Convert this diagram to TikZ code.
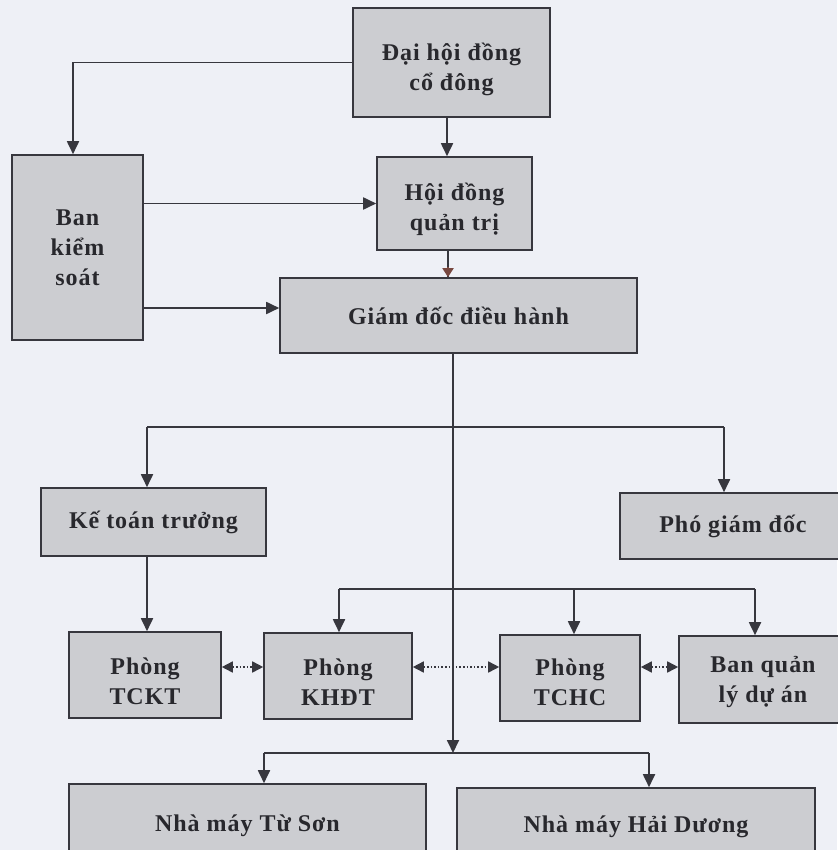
\documentclass[tikz,border=0pt]{standalone}
\usepackage{fontspec}
\setmainfont{Liberation Serif}[LetterSpace=4.0]
\usetikzlibrary{arrows.meta}
\definecolor{bgcol}{RGB}{238,240,246}
\definecolor{boxfill}{RGB}{204,205,209}
\definecolor{linecol}{RGB}{55,55,62}
\definecolor{txtcol}{RGB}{40,40,45}
\definecolor{tipbrown}{RGB}{120,72,64}
\tikzset{
  box/.style={draw=linecol, line width=1.6pt, fill=boxfill, rectangle, inner sep=0pt,
    align=center, text=txtcol, font=\bfseries\fontsize{24}{30}\selectfont},
  txt/.style={inner sep=0pt, align=center, text=txtcol, font=\bfseries\fontsize{24}{30}\selectfont},
  conn/.style={draw=linecol, line width=1.8pt},
  arr/.style={conn, -{Triangle[length=13pt,width=12pt]}},
  darr/.style={draw=linecol, line width=1.6pt, dotted,
    {Triangle[length=11pt,width=11pt]}-{Triangle[length=11pt,width=11pt]}},
}
\begin{document}
\begin{tikzpicture}[x=1pt,y=-1pt]
\fill[bgcol] (0,0) rectangle (837,850);
\useasboundingbox (0,0) rectangle (837,850);

% boxes
\node[box, minimum width=197pt, minimum height=109pt, line width=2pt] (dhd) at (451.5,62.5) {};
\node[txt] (dhdT) at (451.5,69) {Đại hội đồng\\cổ đông};
\node[box, minimum width=155pt, minimum height=93pt] (hdqt) at (454.5,203.5) {};
\node[txt] (hdqtT) at (454.5,209) {Hội đồng\\quản trị};
\node[box, minimum width=131pt, minimum height=185pt] (bks) at (77.5,247.5) {Ban\\kiểm\\soát};
\node[box, minimum width=357pt, minimum height=75pt] (gd) at (458.5,315.5) {Giám đốc điều hành};
\node[box, minimum width=225pt, minimum height=68pt] (ktt) at (153.5,522) {Kế toán trưởng};
\node[box, minimum width=226pt, minimum height=66pt] (pgd) at (733,526) {Phó giám đốc};
\node[box, minimum width=152pt, minimum height=86pt] (tckt) at (145,675) {};
\node[txt] (tcktT) at (145,681) {Phòng\\TCKT};
\node[box, minimum width=148pt, minimum height=86pt] (khdt) at (338,676) {};
\node[txt] (khdtT) at (338,682) {Phòng\\KHĐT};
\node[box, minimum width=140pt, minimum height=86pt] (tchc) at (570,678) {};
\node[txt] (tchcT) at (570,682) {Phòng\\TCHC};
\node[box, minimum width=168pt, minimum height=87pt] (bql) at (763,679.5) {};
\node[txt] (bqlT) at (763,682) {Ban quản\\lý dự án};
\node[box, minimum width=357pt, minimum height=78pt] (nmts) at (247.5,823) {};
\node[txt] (nmtsT) at (247.5,826) {Nhà máy Từ Sơn};
\node[box, minimum width=358pt, minimum height=78pt] (nmhd) at (636,827) {Nhà máy Hải Dương};

% bus coordinates
\coordinate (m0) at ([xshift=-5.5pt]gd.south);
\coordinate (b1) at (453,427);
\coordinate (tk) at (147,427);
\coordinate (tp) at (724,427);
\coordinate (b2) at (453,589);
\coordinate (a2) at (339,589);
\coordinate (c2) at (574,589);
\coordinate (d2) at (755,589);
\coordinate (b3) at (453,753);
\coordinate (e3) at (264,753);
\coordinate (f3) at (649,753);
\coordinate (dl) at (0,667);
\coordinate (g1) at ([yshift=7.5pt]gd.west);
\coordinate (k1) at ([xshift=-4.5pt]bks.north);
\coordinate (h1) at ([xshift=-4.5pt]dhd.south);
\coordinate (h2) at ([xshift=-6.5pt]hdqt.south);

% top part
\draw[arr] (dhd.west) -| (k1);
\draw[arr] (h1) -- (h1 |- hdqt.north);
\draw[conn] (h2) -- (h2 |- gd.north);
\draw[draw=tipbrown, line width=1.8pt, -{Triangle[length=9pt,width=11pt]}] ([yshift=10pt]h2 |- gd.north) -- (h2 |- gd.north);
\draw[arr] (bks.east |- hdqt.west) -- (hdqt.west);
\draw[arr] (bks.east |- g1) -- (g1);

% main vertical
\draw[arr] (m0) -- (b3);

% first bus
\draw[conn] (tk) -- (tp);
\draw[arr] (tk) -- (tk |- ktt.north);
\draw[arr] (tp) -- (tp |- pgd.north);
\draw[arr] (tk |- ktt.south) -- (tk |- tckt.north);

% second bus
\draw[conn] (a2) -- (d2);
\draw[arr] (a2) -- (a2 |- khdt.north);
\draw[arr] (c2) -- (c2 |- tchc.north);
\draw[arr] (d2) -- (d2 |- bql.north);

% dotted links
\draw[darr] (tckt.east |- dl) -- (khdt.west |- dl);
\draw[darr] (khdt.east |- dl) -- (tchc.west |- dl);
\draw[darr] (tchc.east |- dl) -- (bql.west |- dl);

% bottom bus
\draw[conn] (e3) -- (f3);
\draw[arr] (e3) -- (e3 |- nmts.north);
\draw[arr] (f3) -- (f3 |- nmhd.north);
\end{tikzpicture}
\end{document}
